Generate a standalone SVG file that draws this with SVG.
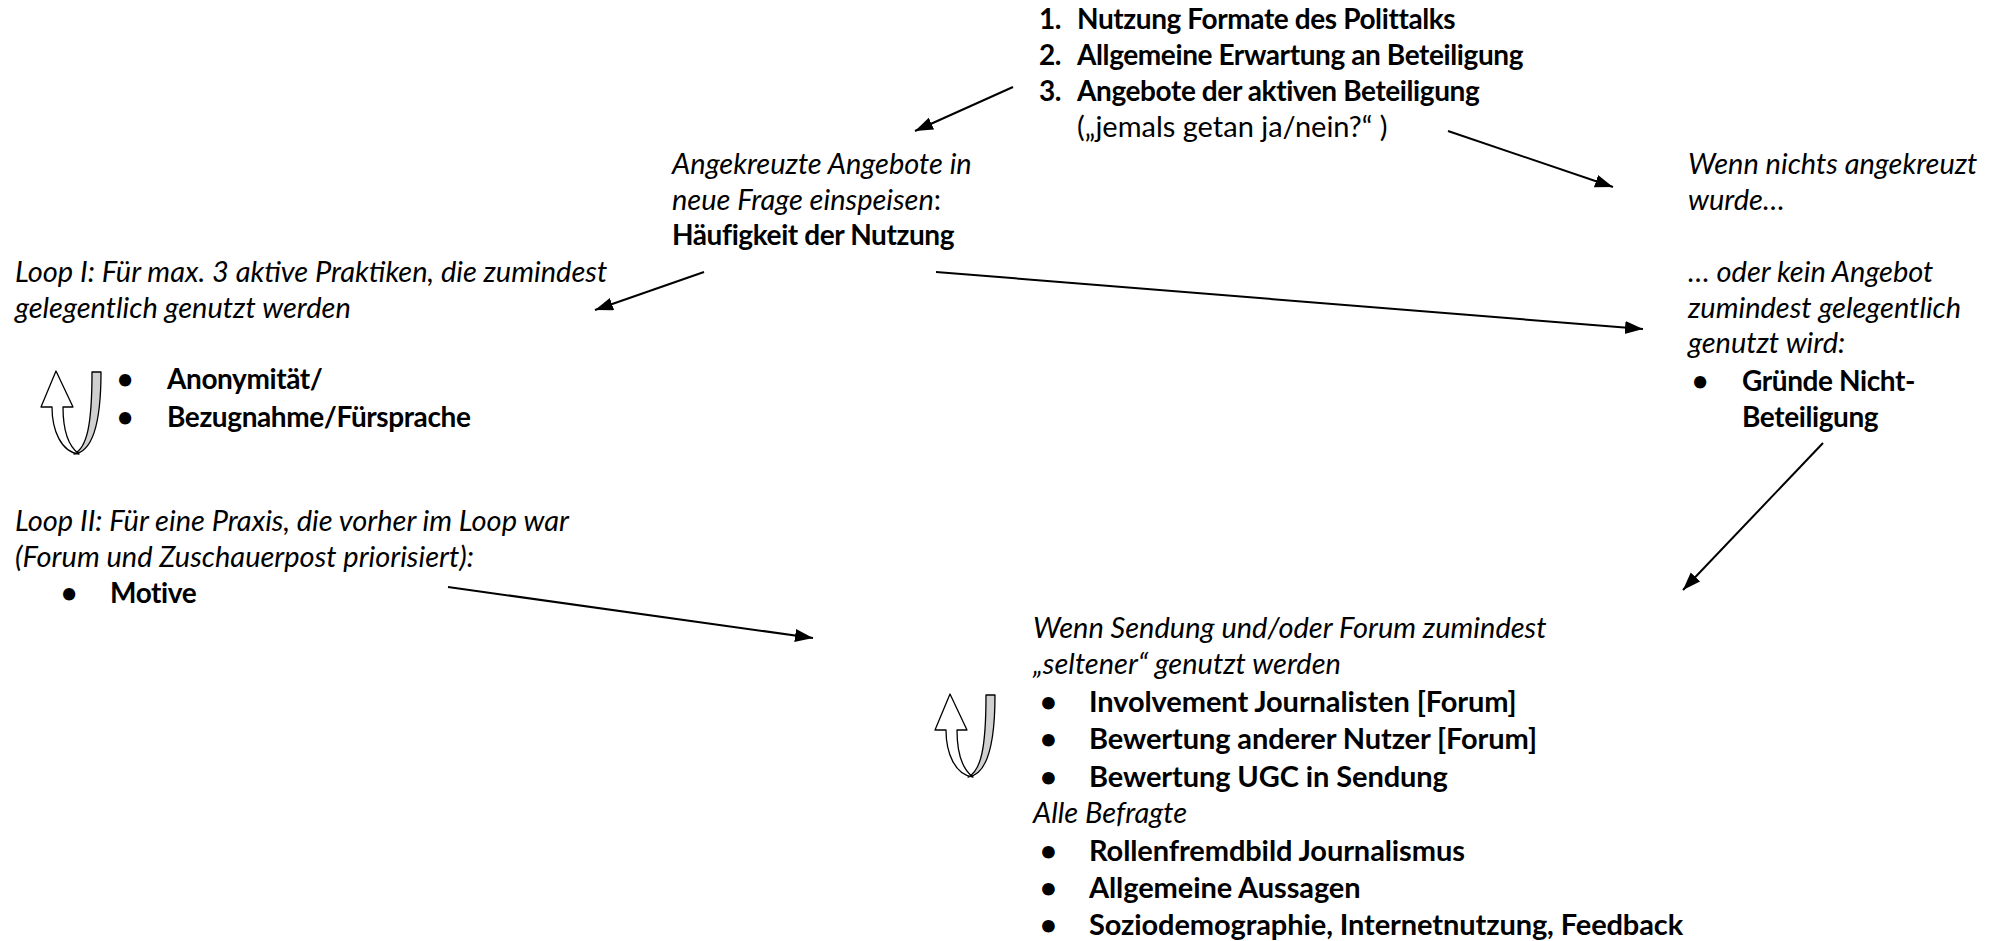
<svg xmlns="http://www.w3.org/2000/svg" width="1998" height="941" viewBox="0 0 1998 941">
<defs>
<style>
.t{font-family:Lato,"Liberation Sans",sans-serif;font-size:29px;fill:#000}
.b{font-weight:bold;font-size:28px;letter-spacing:-0.4px}
.bb{font-weight:bold;font-size:29px;letter-spacing:-0.1px}
.i{font-style:italic}
.c{stroke:#000;stroke-width:2;fill:none;marker-end:url(#ah)}
.w{fill:#fff;stroke:#000;stroke-width:1.3;stroke-linejoin:round}
.g{fill:#d0d0d0;stroke:#000;stroke-width:1.3;stroke-linejoin:round}
</style>
<marker id="ah" markerUnits="userSpaceOnUse" markerWidth="20" markerHeight="14" refX="18" refY="6.5" orient="auto">
<path d="M0,0 L18,6.5 L0,13 Z" fill="#000"/>
</marker>
<g id="uturn">
<path class="g" d="M74,454 C87,448 92,425 92,372 L101,372 C101,420 93,452 74,454 Z"/>
<path class="w" d="M56,371 L73,407 L63,407 C63,430 68,446 79,454 C61,452 52,430 52,407 L41,407 Z"/>
</g>
</defs>
<rect width="1998" height="941" fill="#fff"/>

<g id="node-top">
<text class="t b" x="1039" y="29">1.</text><text class="t b" x="1077" y="29">Nutzung Formate des Polittalks</text>
<text class="t b" x="1039" y="65">2.</text><text class="t b" x="1077" y="65">Allgemeine Erwartung an Beteiligung</text>
<text class="t b" x="1039" y="101">3.</text><text class="t b" x="1077" y="101">Angebote der aktiven Beteiligung</text>
<text class="t" x="1077" y="137">(„jemals getan ja/nein?“ )</text>
</g>

<g id="node-angekreuzt">
<text class="t i" x="672" y="174">Angekreuzte Angebote in</text>
<text class="t" x="672" y="210"><tspan class="i">neue Frage einspeisen</tspan>:</text>
<text class="t b" x="672" y="245">Häufigkeit der Nutzung</text>
</g>

<g id="node-nichts">
<text class="t i" x="1688" y="174">Wenn nichts angekreuzt</text>
<text class="t i" x="1688" y="210">wurde…</text>
</g>

<g id="node-kein">
<text class="t i" x="1688" y="282">… oder kein Angebot</text>
<text class="t i" x="1688" y="318">zumindest gelegentlich</text>
<text class="t i" x="1688" y="353">genutzt wird:</text>
<text class="t b" x="1692" y="391">•</text>
<text class="t b" x="1742" y="391">Gründe Nicht-</text>
<text class="t b" x="1742" y="427">Beteiligung</text>
</g>

<g id="node-loop1">
<text class="t i" x="15" y="282">Loop I: Für max. 3 aktive Praktiken, die zumindest</text>
<text class="t i" x="15" y="318">gelegentlich genutzt werden</text>
<use href="#uturn"/>
<text class="t b" x="117" y="389">•</text>
<text class="t b" x="167" y="389">Anonymität/</text>
<text class="t b" x="117" y="427">•</text>
<text class="t b" x="167" y="427">Bezugnahme/Fürsprache</text>
</g>

<g id="node-loop2">
<text class="t i" x="15" y="531">Loop II: Für eine Praxis, die vorher im Loop war</text>
<text class="t i" x="15" y="567">(Forum und Zuschauerpost priorisiert):</text>
<text class="t b" x="61" y="603">•</text>
<text class="t b" x="110" y="603">Motive</text>
</g>

<g id="node-bottom">
<text class="t i" x="1033" y="638">Wenn Sendung und/oder Forum zumindest</text>
<text class="t i" x="1033" y="674">„seltener“ genutzt werden</text>
<use href="#uturn" transform="translate(894,323)"/>
<text class="t bb" x="1040" y="712">•</text>
<text class="t bb" x="1089" y="712">Involvement Journalisten [Forum]</text>
<text class="t bb" x="1040" y="749">•</text>
<text class="t bb" x="1089" y="749">Bewertung anderer Nutzer [Forum]</text>
<text class="t bb" x="1040" y="787">•</text>
<text class="t bb" x="1089" y="787">Bewertung UGC in Sendung</text>
<text class="t i" x="1033" y="823">Alle Befragte</text>
<text class="t bb" x="1040" y="861">•</text>
<text class="t bb" x="1089" y="861">Rollenfremdbild Journalismus</text>
<text class="t bb" x="1040" y="898">•</text>
<text class="t bb" x="1089" y="898">Allgemeine Aussagen</text>
<text class="t bb" x="1040" y="935">•</text>
<text class="t bb" x="1089" y="935">Soziodemographie, Internetnutzung, Feedback</text>
</g>

<g id="connectors">
<line class="c" x1="1013" y1="87" x2="915" y2="131"/>
<line class="c" x1="1448" y1="131" x2="1613" y2="187"/>
<line class="c" x1="704" y1="272" x2="595" y2="310"/>
<line class="c" x1="936" y1="272" x2="1643" y2="329"/>
<line class="c" x1="1823" y1="443" x2="1683" y2="590"/>
<line class="c" x1="448" y1="587" x2="813" y2="638"/>
</g>
</svg>
